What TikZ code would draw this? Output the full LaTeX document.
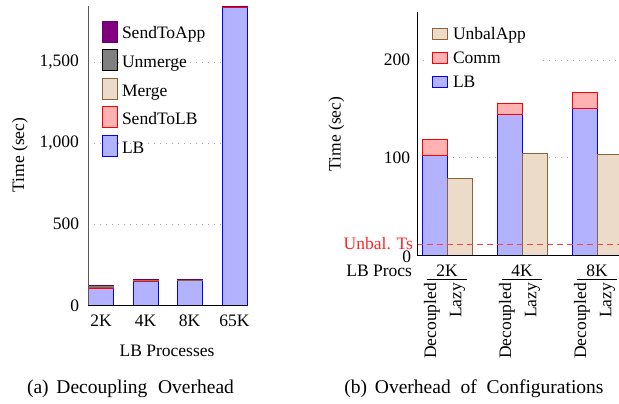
\documentclass[tikz,border=0pt]{standalone}
\usepackage{fontspec}
\setmainfont{Liberation Serif}
\definecolor{mergebrown}{RGB}{140,98,57}
\definecolor{mergefill}{RGB}{235,219,200}
\begin{document}
\begin{tikzpicture}[x=1pt,y=-1pt,
  every node/.style={font=\fontsize{17.5}{21}\selectfont, inner sep=0pt, outer sep=0pt},
  capst/.style={font=\fontsize{19.5}{23}\selectfont},
  barline/.style={line width=0.8pt},
  lbst/.style={barline, fill=blue!30, draw=blue},
  commst/.style={barline, fill=red!30, draw=red},
  mergest/.style={barline, fill=mergefill, draw=mergebrown},
  unmergest/.style={barline, fill=black!50, draw=black},
  appst/.style={barline, fill=violet, draw=violet!80!black},
  gridst/.style={gray!70, line width=0.6pt, dash pattern=on 1pt off 5pt},
  axisst/.style={line width=0.9pt},
  tslabel/.style={text=red!85},
]
\useasboundingbox (0,0) rectangle (619,404);
\clip (0,0) rectangle (619,404);

% ---------------- left chart ----------------
\foreach \gy in {224,143,62}{\draw[gridst] (88,\gy) -- (247,\gy);}
\foreach \xc/\va/\vb/\vm/\vu/\vs in {101/105/3/10/1/2, 145.5/148/2/6/1/2, 189.5/150/2/6/1/2, 234.5/1840/1/2/0.5/1.5}{
  \pgfmathsetmacro\ya{305-0.162*\va}
  \pgfmathsetmacro\yb{\ya-0.162*\vb}
  \pgfmathsetmacro\ym{\yb-0.162*\vm}
  \pgfmathsetmacro\yu{\ym-0.162*\vu}
  \pgfmathsetmacro\ys{\yu-0.162*\vs}
  \filldraw[lbst] (\xc-12.5,305) rectangle (\xc+12.5,\ya);
  \filldraw[commst] (\xc-12.5,\ya) rectangle (\xc+12.5,\yb);
  \filldraw[mergest] (\xc-12.5,\yb) rectangle (\xc+12.5,\ym);
  \filldraw[unmergest] (\xc-12.5,\ym) rectangle (\xc+12.5,\yu);
  \filldraw[appst] (\xc-12.5,\yu) rectangle (\xc+12.5,\ys);
}
\draw[axisst, black!65] (88,6) -- (88,305);
\draw[axisst] (88,305) -- (247,305);

\node[anchor=east] (la0) at (79,306) {0};
\node[anchor=east] (la500) at (79,224) {500};
\node[anchor=east] (la1000) at (79,143) {1,000};
\node[anchor=east] (la1500) at (79,62) {1,500};
\node[rotate=90] (layl) at (20,155) {Time (sec)};
\node (lx2) at (101,320.5) {2K};
\node (lx4) at (145.5,320.5) {4K};
\node (lx8) at (189.5,320.5) {8K};
\node (lx65) at (234.5,320.5) {65K};
\node (lxl) at (167,351) {LB Processes};
\node[capst] (capa) at (130.5,389) {(a)\hspace{0.4em}Decoupling\hspace{0.55em}Overhead};

% left legend
\filldraw[appst] (102,21) rectangle (117,42);
\filldraw[unmergest] (102,49.5) rectangle (117,70.5);
\filldraw[mergest] (102,78) rectangle (117,99);
\filldraw[commst] (102,106.5) rectangle (117,127.5);
\filldraw[lbst] (102,135) rectangle (117,156);
\node[anchor=base west] (lg1) at (122,39) {SendToApp};
\node[anchor=base west] (lg2) at (122,67.6) {Unmerge};
\node[anchor=base west] (lg3) at (122,96.2) {Merge};
\node[anchor=base west] (lg4) at (122,124.8) {SendToLB};
\node[anchor=base west] (lg5) at (122,153.4) {LB};

% ---------------- right chart ----------------
\foreach \gy in {157.5,60}{\draw[gridst] (417,\gy) -- (619,\gy);}
\foreach \xg/\va/\vc/\vl in {447/102.6/16.4/79, 522/144.6/10.4/104, 597/150.8/16.2/103}{
  \pgfmathsetmacro\ya{255-0.975*\va}
  \pgfmathsetmacro\yc{\ya-0.975*\vc}
  \pgfmathsetmacro\yl{255-0.975*\vl}
  \filldraw[lbst] (\xg-24.5,255) rectangle (\xg+0.5,\ya);
  \filldraw[commst] (\xg-24.5,\ya) rectangle (\xg+0.5,\yc);
  \filldraw[mergest] (\xg+0.5,255) rectangle (\xg+25.5,\yl);
}
\draw[red!75, line width=0.9pt, dash pattern=on 6pt off 4pt] (417,244) -- (619,244);
\draw[axisst] (417,12) -- (417,255.5);
\draw[axisst] (417,255) -- (619,255);

% right legend
\fill[white] (428,20) rectangle (538,96);
\filldraw[mergest] (432,28) rectangle (447,39);
\filldraw[commst] (432,52) rectangle (447,63);
\filldraw[lbst] (432,76) rectangle (447,87);
\node[anchor=base west] (rg1) at (453,40) {UnbalApp};
\node[anchor=base west] (rg2) at (453,64) {Comm};
\node[anchor=base west] (rg3) at (453,88) {LB};

\node[anchor=base east] (ra0) at (411,262.5) {0};
\node[anchor=east] (ra100) at (410,157.5) {100};
\node[anchor=east] (ra200) at (410,60) {200};
\node[rotate=90] (rayl) at (336.5,134) {Time (sec)};
\node[anchor=base east, tslabel] (rts) at (413,249.5) {Unbal. Ts};
\node[anchor=base east] (rlbp) at (412,276) {LB Procs};

\foreach \xg/\lab in {447/2K, 522/4K, 597/8K}{
  \node (g\lab) at (\xg,270.5) {\lab};
  \coordinate (ul\lab) at (\xg-20,279);
  \coordinate (ur\lab) at (\xg+20,279);
  \draw[line width=0.7pt] (ul\lab) -- (ur\lab);
  \node[rotate=90, anchor=east] (d\lab) at (\xg-15,283) {Decoupled};
  \node[rotate=90, anchor=east] (z\lab) at (\xg+10.5,283) {Lazy};
}

\node[capst] (capb) at (474,389) {(b)\hspace{0.4em}Overhead\hspace{0.5em}of\hspace{0.5em}Configurations};
\end{tikzpicture}
\end{document}
